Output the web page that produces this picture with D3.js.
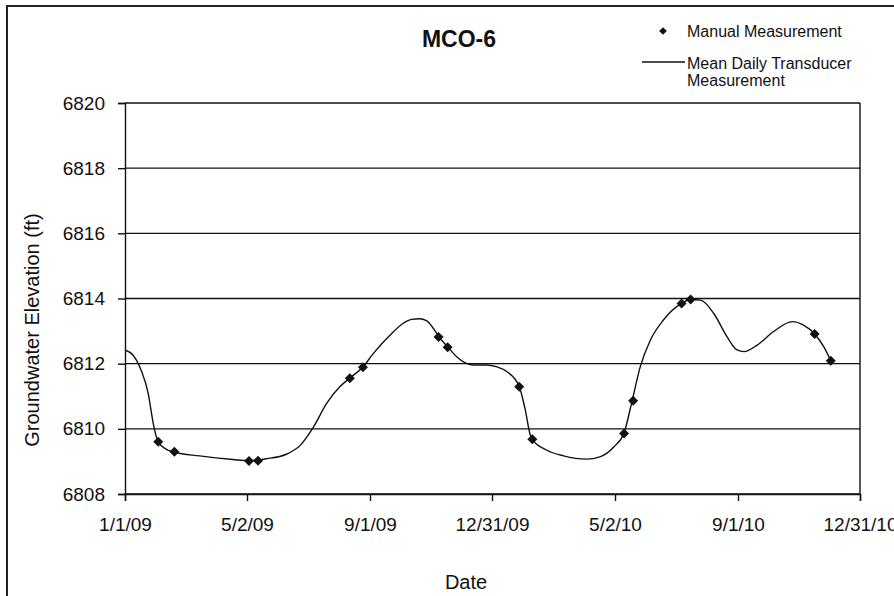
<!DOCTYPE html>
<html>
<head>
<meta charset="utf-8">
<script src="https://cdn.jsdelivr.net/npm/d3@7"></script>
<style>
  html, body { margin: 0; padding: 0; background: #fff; }
  svg { display: block; }
  text { font-family: "Liberation Sans", Arial, sans-serif; fill: #111; }
</style>
</head>
<body>
<svg id="chart" width="894" height="596"></svg>
<script>
// ---- Data ----
const chartTitle = "MCO-6";
const yTitle = "Groundwater Elevation (ft)";
const xTitle = "Date";
const legendLabels = ["Manual Measurement", "Mean Daily Transducer", "Measurement"];

const xTickDates  = ["2009-01-01", "2009-05-02", "2009-09-01", "2009-12-31", "2010-05-02", "2010-09-01", "2010-12-31"];
const xTickLabels = ["1/1/09", "5/2/09", "9/1/09", "12/31/09", "5/2/10", "9/1/10", "12/31/10"];
const yTicks = [6808, 6810, 6812, 6814, 6816, 6818, 6820];

// Manual measurements
const manualDates = ["2009-02-03", "2009-02-19", "2009-05-04", "2009-05-13", "2009-08-12", "2009-08-25",
                     "2009-11-08", "2009-11-17", "2010-01-27", "2010-02-09", "2010-05-11", "2010-05-20",
                     "2010-07-07", "2010-07-16", "2010-11-16", "2010-12-02"];
const manualValues = [6809.60, 6809.30, 6809.01, 6809.02, 6811.55, 6811.89,
                      6812.82, 6812.50, 6811.29, 6809.68, 6809.86, 6810.86,
                      6813.85, 6813.97, 6812.91, 6812.09];

// Mean daily transducer measurement (traced)
const lineDates = ["2009-01-01", "2009-01-09", "2009-01-17", "2009-01-24", "2009-01-29", "2009-02-01",
                   "2009-02-03", "2009-02-11", "2009-02-19", "2009-03-16", "2009-04-18", "2009-05-04",
                   "2009-05-21", "2009-06-10", "2009-06-24", "2009-07-07", "2009-07-20", "2009-08-02",
                   "2009-08-12", "2009-08-25", "2009-09-04", "2009-09-21", "2009-10-04", "2009-10-12",
                   "2009-10-20", "2009-10-27", "2009-11-04", "2009-11-08", "2009-11-17", "2009-11-26",
                   "2009-12-04", "2009-12-12", "2009-12-25", "2010-01-05", "2010-01-15", "2010-01-27",
                   "2010-02-02", "2010-02-07", "2010-02-09", "2010-02-23", "2010-03-12", "2010-04-04",
                   "2010-04-17", "2010-05-01", "2010-05-11", "2010-05-19", "2010-05-27", "2010-06-06",
                   "2010-06-19", "2010-07-07", "2010-07-16", "2010-07-26", "2010-08-08", "2010-08-21",
                   "2010-08-31", "2010-09-07", "2010-09-20", "2010-10-06", "2010-10-25", "2010-11-05",
                   "2010-11-16", "2010-11-25", "2010-12-02"];
const lineValues = [6812.42, 6812.26, 6811.80, 6811.09, 6810.17, 6809.76,
                    6809.60, 6809.37, 6809.28, 6809.17, 6809.06, 6809.02,
                    6809.08, 6809.22, 6809.50, 6810.06, 6810.78, 6811.29,
                    6811.56, 6811.90, 6812.30, 6812.88, 6813.24, 6813.36,
                    6813.38, 6813.32, 6813.03, 6812.84, 6812.52, 6812.21,
                    6812.03, 6811.96, 6811.96, 6811.90, 6811.75, 6811.30,
                    6810.58, 6809.81, 6809.68, 6809.35, 6809.17, 6809.07,
                    6809.14, 6809.45, 6809.88, 6810.86, 6811.90, 6812.72,
                    6813.34, 6813.85, 6813.97, 6813.95, 6813.54, 6812.83,
                    6812.42, 6812.37, 6812.57, 6812.98, 6813.29, 6813.18,
                    6812.91, 6812.52, 6812.09];

// ---- Drawing ----
const parse = d3.utcParse("%Y-%m-%d");
const svg = d3.select("#chart");
const ink = "#111";

const plot = { left: 125, right: 860, top: 103, bottom: 494 };

const x = d3.scaleUtc()
  .domain([parse(xTickDates[0]), parse(xTickDates[xTickDates.length - 1])])
  .range([plot.left, plot.right]);
const y = d3.scaleLinear()
  .domain([yTicks[0], yTicks[yTicks.length - 1]])
  .range([plot.bottom, plot.top]);

// Outer frame
svg.append("path")
  .attr("d", "M7,600 L7,6 L900,6")
  .attr("fill", "none").attr("stroke", "#222").attr("stroke-width", 2);

// Gridlines
svg.append("g")
  .selectAll("line").data(yTicks).join("line")
  .attr("x1", plot.left).attr("x2", plot.right)
  .attr("y1", d => y(d)).attr("y2", d => y(d))
  .attr("stroke", ink).attr("stroke-width", 1.4);

// Plot border (right side)
svg.append("line")
  .attr("x1", plot.right).attr("x2", plot.right)
  .attr("y1", plot.top).attr("y2", plot.bottom)
  .attr("stroke", ink).attr("stroke-width", 1.4);

// Y axis
const yAxis = svg.append("g")
  .attr("transform", `translate(${plot.left},0)`)
  .call(d3.axisLeft(y).tickValues(yTicks).tickFormat(d3.format("d")).tickSizeOuter(0).tickSize(7).tickPadding(13));
yAxis.select(".domain").attr("stroke", ink).attr("stroke-width", 1.4);
yAxis.selectAll(".tick line").attr("stroke", ink).attr("stroke-width", 1.4);
yAxis.selectAll(".tick text")
  .style("font-family", '"Liberation Sans", Arial, sans-serif')
  .style("font-size", "19px").attr("fill", ink);

// X axis
const xAxis = svg.append("g")
  .attr("transform", `translate(0,${plot.bottom})`)
  .call(d3.axisBottom(x).tickValues(xTickDates.map(parse))
    .tickFormat((d, i) => xTickLabels[i]).tickSizeOuter(0).tickSize(7).tickPadding(17));
xAxis.select(".domain").attr("stroke", ink).attr("stroke-width", 1.4);
xAxis.selectAll(".tick line").attr("stroke", ink).attr("stroke-width", 1.4);
xAxis.selectAll(".tick text")
  .style("font-family", '"Liberation Sans", Arial, sans-serif')
  .style("font-size", "19px").attr("fill", ink);

// Transducer line
const lineData = lineDates.map((d, i) => ({ date: parse(d), value: lineValues[i] }));
svg.append("path")
  .datum(lineData)
  .attr("fill", "none").attr("stroke", ink).attr("stroke-width", 1.4)
  .attr("d", d3.line().x(d => x(d.date)).y(d => y(d.value)).curve(d3.curveMonotoneX));

// Manual measurement diamonds
const manualData = manualDates.map((d, i) => ({ date: parse(d), value: manualValues[i] }));
const diamond = d3.symbol().type(d3.symbolSquare).size(50);
svg.append("g")
  .selectAll("path").data(manualData).join("path")
  .attr("d", diamond)
  .attr("transform", d => `translate(${x(d.date)},${y(d.value)}) rotate(45)`)
  .attr("fill", ink);

// Title
svg.append("text")
  .attr("x", 459).attr("y", 47)
  .attr("text-anchor", "middle")
  .style("font-size", "23px").style("font-weight", "bold")
  .text(chartTitle);

// Axis titles
svg.append("text")
  .attr("transform", "translate(39,330) rotate(-90)")
  .attr("text-anchor", "middle")
  .style("font-size", "20px")
  .text(yTitle);
svg.append("text")
  .attr("x", 466).attr("y", 589)
  .attr("text-anchor", "middle")
  .style("font-size", "20px")
  .text(xTitle);

// Legend
const legend = svg.append("g");
legend.append("path")
  .attr("d", d3.symbol().type(d3.symbolSquare).size(30))
  .attr("transform", "translate(663,31) rotate(45)")
  .attr("fill", ink);
legend.append("text").attr("x", 687).attr("y", 37).style("font-size", "16px").text(legendLabels[0]);
legend.append("line")
  .attr("x1", 642).attr("x2", 685).attr("y1", 62).attr("y2", 62)
  .attr("stroke", ink).attr("stroke-width", 1.4);
legend.append("text").attr("x", 687).attr("y", 69).style("font-size", "16px").text(legendLabels[1]);
legend.append("text").attr("x", 687).attr("y", 86).style("font-size", "16px").text(legendLabels[2]);
</script>
</body>
</html>
